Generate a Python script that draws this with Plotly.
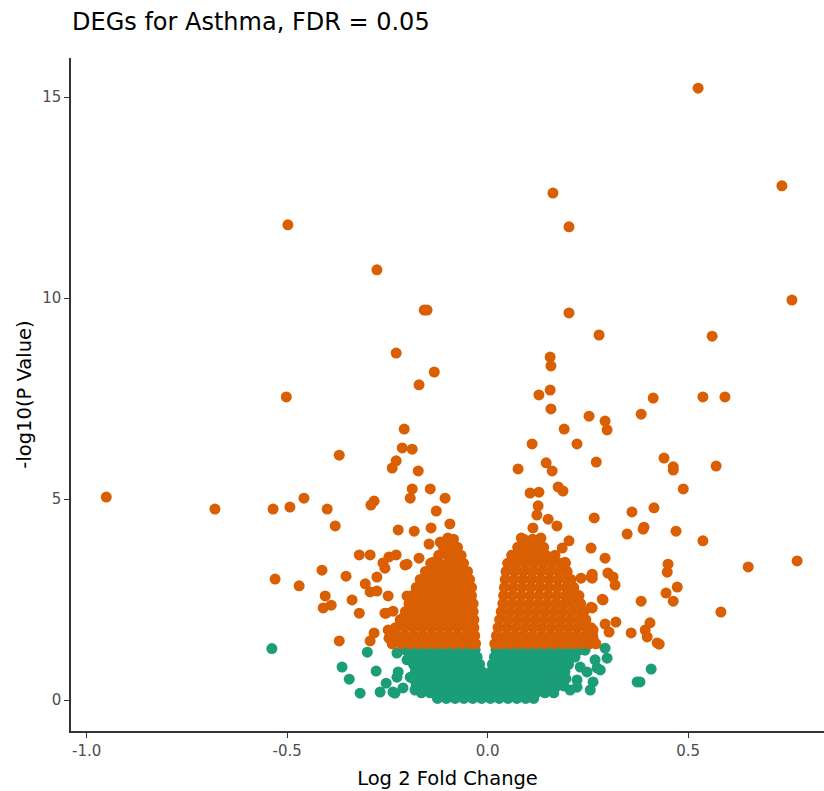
import plotly.graph_objects as go

# ---------------- data ----------------
# Significant (orange) genes: isolated points
orange_x = [0.525, 0.734, 0.163, -0.498, 0.203, -0.276, 0.759, -0.158, -0.151, 0.203,
            0.278, 0.560, -0.228, 0.156, 0.158, -0.133, -0.171, 0.156, 0.128, -0.502,
            0.537, 0.592, 0.413, 0.158, 0.383, 0.253, 0.293, 0.298, -0.208, 0.191,
            0.111, 0.223, -0.213, -0.188, -0.370, 0.440, 0.146, 0.271, 0.463, 0.463,
            0.570, -0.228, -0.238, -0.173, 0.161, 0.076, 0.488, -0.143, -0.188, -0.193,
            -0.106, 0.106, 0.128, 0.176, 0.188, -0.951, -0.458, -0.283, -0.291, -0.680,
            -0.535, -0.493, -0.400, -0.380, 0.126, 0.123, 0.151, -0.128, 0.360, 0.415,
            0.266, 0.390, 0.388, 0.470, 0.348, 0.537, -0.094, -0.223, -0.183, -0.141,
            0.113, 0.173, 0.133, 0.084, -0.146, -0.118, -0.099, 0.203, 0.186, 0.258,
            0.293, -0.246, -0.228, -0.261, -0.201, -0.171, -0.136, -0.320, -0.293, -0.256,
            -0.276, -0.305, -0.293, -0.276, -0.248, -0.413, -0.353, -0.530, -0.470, -0.405,
            -0.390, -0.410, -0.338, -0.320, -0.256, -0.283, -0.293, -0.370, -0.248, -0.246,
            0.650, 0.772, 0.450, 0.448, 0.193, 0.198, 0.233, 0.261, 0.261, 0.300,
            0.313, 0.318, 0.473, 0.445, 0.463, 0.383, 0.582, 0.288, 0.213, 0.206,
            0.261, 0.320, 0.293, 0.303, 0.241, 0.263, 0.358, 0.405, 0.393, 0.398,
            0.423, 0.428, 0.248, 0.263, 0.258, 0.286, 0.258, -0.201, -0.253, -0.243,
            -0.211, -0.206, -0.236, -0.206, -0.081, -0.066]
orange_y = [15.22, 12.79, 12.61, 11.82, 11.77, 10.70, 9.95, 9.70, 9.70, 9.63,
            9.08, 9.05, 8.63, 8.53, 8.31, 8.16, 7.84, 7.71, 7.59, 7.54,
            7.54, 7.54, 7.51, 7.24, 7.11, 7.06, 6.94, 6.72, 6.74, 6.74,
            6.37, 6.37, 6.27, 6.24, 6.09, 6.02, 5.90, 5.92, 5.80, 5.72,
            5.82, 5.95, 5.77, 5.70, 5.70, 5.75, 5.25, 5.25, 5.25, 5.02,
            5.02, 5.15, 5.17, 5.30, 5.20, 5.05, 5.02, 4.95, 4.85, 4.75,
            4.75, 4.80, 4.75, 4.33, 4.83, 4.60, 4.50, 4.70, 4.68, 4.78,
            4.53, 4.30, 4.25, 4.20, 4.13, 3.96, 4.38, 4.23, 4.20, 4.28,
            4.28, 4.33, 4.03, 4.03, 3.88, 3.93, 4.03, 3.96, 3.78, 3.78,
            3.53, 3.56, 3.61, 3.41, 3.38, 3.53, 3.43, 3.61, 3.61, 3.28,
            3.06, 2.89, 2.69, 2.71, 2.59, 3.23, 3.08, 3.01, 2.84, 2.59,
            2.36, 2.29, 2.49, 2.16, 2.16, 1.67, 1.47, 1.47, 1.74, 1.54,
            3.31, 3.46, 3.38, 3.18, 3.43, 3.18, 3.03, 3.13, 3.03, 3.16,
            3.06, 2.86, 2.81, 2.66, 2.46, 2.46, 2.19, 2.49, 2.69, 2.44,
            2.29, 1.94, 1.89, 1.69, 1.92, 1.74, 1.67, 1.92, 1.74, 1.57,
            1.42, 1.39, 1.49, 1.54, 3.06, 2.51, 2.31, 2.59, 2.16, 1.57,
            2.04, 1.57, 2.21, 3.36, 3.56, 3.31]

# Significant (orange) genes: dense clouds, one list of fold changes per -log10(p) level
orange_cloud_y = [1.40, 1.60, 1.80, 2.00, 2.20, 2.40, 2.60, 2.80, 3.00, 3.20, 3.40, 3.60, 3.80, 4.00]
orange_cloud_x = [
    [-0.238, -0.216, -0.194, -0.172, -0.150, -0.128, -0.106, -0.084, -0.062, -0.040, -0.030,
     0.018, 0.034, 0.056, 0.078, 0.100, 0.122, 0.144, 0.166, 0.188, 0.210, 0.232, 0.254, 0.270],
    [-0.227, -0.205, -0.183, -0.161, -0.139, -0.117, -0.095, -0.073, -0.051, -0.032,
     0.022, 0.045, 0.067, 0.089, 0.111, 0.133, 0.155, 0.177, 0.199, 0.221, 0.243, 0.262],
    [-0.230, -0.208, -0.186, -0.164, -0.142, -0.120, -0.098, -0.076, -0.054, -0.034,
     0.026, 0.048, 0.070, 0.092, 0.114, 0.136, 0.158, 0.180, 0.202, 0.224, 0.246, 0.258],
    [-0.218, -0.196, -0.174, -0.152, -0.130, -0.108, -0.086, -0.064, -0.042, -0.034,
     0.030, 0.052, 0.074, 0.096, 0.118, 0.140, 0.162, 0.184, 0.206, 0.228, 0.245],
    [-0.205, -0.183, -0.161, -0.139, -0.117, -0.095, -0.073, -0.051, -0.036,
     0.034, 0.056, 0.078, 0.100, 0.122, 0.144, 0.166, 0.188, 0.210, 0.232, 0.240],
    [-0.196, -0.174, -0.152, -0.130, -0.108, -0.086, -0.064, -0.042, -0.036,
     0.038, 0.060, 0.082, 0.104, 0.126, 0.148, 0.170, 0.192, 0.214, 0.232],
    [-0.188, -0.166, -0.144, -0.122, -0.100, -0.078, -0.056, -0.040,
     0.040, 0.062, 0.084, 0.106, 0.128, 0.150, 0.172, 0.194, 0.216, 0.228],
    [-0.178, -0.156, -0.134, -0.112, -0.090, -0.068, -0.048, -0.040,
     0.042, 0.064, 0.086, 0.108, 0.130, 0.152, 0.174, 0.196, 0.215],
    [-0.168, -0.146, -0.124, -0.102, -0.080, -0.060, -0.045,
     0.044, 0.066, 0.088, 0.110, 0.132, 0.154, 0.176, 0.198, 0.208],
    [-0.155, -0.133, -0.111, -0.089, -0.067, -0.050,
     0.046, 0.068, 0.090, 0.112, 0.134, 0.156, 0.178, 0.198],
    [-0.142, -0.120, -0.098, -0.076, -0.060,
     0.050, 0.072, 0.094, 0.116, 0.138, 0.160, 0.182, 0.194],
    [-0.122, -0.100, -0.082, -0.066,
     0.060, 0.082, 0.104, 0.126, 0.146, 0.168],
    [-0.110, -0.090, -0.075,
     0.075, 0.097, 0.119, 0.140],
    [-0.100, -0.085,
     0.090, 0.112, 0.130],
]

# Non-significant (green) genes: isolated points
green_x = [-0.538, -0.300, -0.363, -0.345, -0.318, -0.278, -0.268, -0.253, -0.226, -0.226,
           -0.201, -0.193, -0.231, -0.236, -0.223, -0.211, 0.293, 0.298, 0.273, 0.263,
           0.223, 0.408, 0.373, 0.380, 0.281, 0.248, 0.231, 0.223, 0.268, 0.243,
           0.256, 0.206, -0.181]
green_y = [1.28, 1.19, 0.82, 0.52, 0.17, 0.72, 0.20, 0.42, 0.57, 1.17,
           1.00, 0.57, 0.17, 0.20, 0.70, 0.30, 1.29, 1.04, 0.80, 0.45,
           0.32, 0.77, 0.45, 0.45, 0.75, 0.70, 0.82, 0.50, 1.00, 1.24,
           0.25, 0.25, 0.25]

# Non-significant (green) genes: dense cloud, one list of fold changes per -log10(p) level
green_cloud_y = [1.25, 1.07, 0.89, 0.71, 0.53, 0.35, 0.18, 0.04]
green_cloud_x = [
    [-0.205, -0.183, -0.161, -0.139, -0.117, -0.095, -0.073, -0.051, -0.031,
     0.021, 0.043, 0.065, 0.087, 0.109, 0.131, 0.153, 0.175, 0.197, 0.219, 0.232],
    [-0.194, -0.172, -0.150, -0.128, -0.106, -0.084, -0.062, -0.040, -0.026,
     0.017, 0.032, 0.054, 0.076, 0.098, 0.120, 0.142, 0.164, 0.186, 0.208, 0.218],
    [-0.185, -0.163, -0.141, -0.119, -0.097, -0.075, -0.053, -0.031, -0.020,
     0.012, 0.028, 0.050, 0.072, 0.094, 0.116, 0.138, 0.160, 0.182, 0.202],
    [-0.180, -0.158, -0.136, -0.114, -0.092, -0.070, -0.048, -0.026, -0.015,
     0.009, 0.017, 0.039, 0.061, 0.083, 0.105, 0.127, 0.149, 0.171, 0.193],
    [-0.185, -0.163, -0.141, -0.119, -0.097, -0.075, -0.053, -0.031, -0.009, 0.004,
     0.022, 0.044, 0.066, 0.088, 0.110, 0.132, 0.154, 0.176, 0.195],
    [-0.178, -0.156, -0.134, -0.112, -0.090, -0.068, -0.046, -0.024, -0.002,
     0.020, 0.042, 0.064, 0.086, 0.108, 0.130, 0.152, 0.174, 0.190],
    [-0.165, -0.143, -0.121, -0.099, -0.077, -0.055, -0.033, -0.011,
     0.011, 0.033, 0.055, 0.077, 0.099, 0.121, 0.143, 0.165],
    [-0.125, -0.103, -0.081, -0.059, -0.037, -0.015,
     0.007, 0.029, 0.051, 0.073, 0.095, 0.115],
]

title_text = "DEGs for Asthma, FDR = 0.05"
x_title = "Log 2 Fold Change"
y_title = "-log10(P Value)"
x_ticks = [-1.0, -0.5, 0.0, 0.5]
x_tick_labels = ["-1.0", "-0.5", "0.0", "0.5"]
y_ticks = [0, 5, 10, 15]
y_tick_labels = ["0", "5", "10", "15"]

ORANGE = "#D95F02"
GREEN = "#1B9E77"

# ---------------- build point sets ----------------
gx = list(green_x)
gy = list(green_y)
for yy, row in zip(green_cloud_y, green_cloud_x):
    gx.extend(row)
    gy.extend([yy] * len(row))

ox = list(orange_x)
oy = list(orange_y)
for yy, row in zip(orange_cloud_y, orange_cloud_x):
    ox.extend(row)
    oy.extend([yy] * len(row))

fig = go.Figure()
fig.add_trace(go.Scatter(x=gx, y=gy, mode="markers", name="Not significant",
                         marker=dict(color=GREEN, size=11, line=dict(width=0))))
fig.add_trace(go.Scatter(x=ox, y=oy, mode="markers", name="Significant",
                         marker=dict(color=ORANGE, size=11, line=dict(width=0))))

axis_font = dict(family="DejaVu Sans", size=15, color="#4d4d4d")
fig.update_layout(
    width=824, height=791,
    margin=dict(l=71, r=0, t=58, b=60),
    paper_bgcolor="white", plot_bgcolor="white",
    showlegend=False,
    title=dict(text=title_text, x=72 / 824, xref="container", xanchor="left",
               y=1 - 22 / 791, yref="container", yanchor="middle",
               font=dict(family="DejaVu Sans", size=24, color="black")),
    xaxis=dict(range=[-1.039, 0.839], tickvals=x_ticks, ticktext=x_tick_labels,
               showgrid=False, zeroline=False, showline=True, linecolor="#333333", linewidth=1.5,
               ticks="outside", ticklen=5, tickcolor="#333333", tickfont=axis_font,
               title=dict(text=x_title, font=dict(family="DejaVu Sans", size=19.5, color="black"),
                          standoff=13)),
    yaxis=dict(range=[-0.77, 15.97], tickvals=y_ticks, ticktext=y_tick_labels,
               showgrid=False, zeroline=False, showline=True, linecolor="#333333", linewidth=1.5,
               ticks="outside", ticklen=5, tickcolor="#333333", tickfont=axis_font,
               title=dict(text=y_title, font=dict(family="DejaVu Sans", size=19.5, color="black"),
                          standoff=5)),
)

fig.write_html("out.html")
